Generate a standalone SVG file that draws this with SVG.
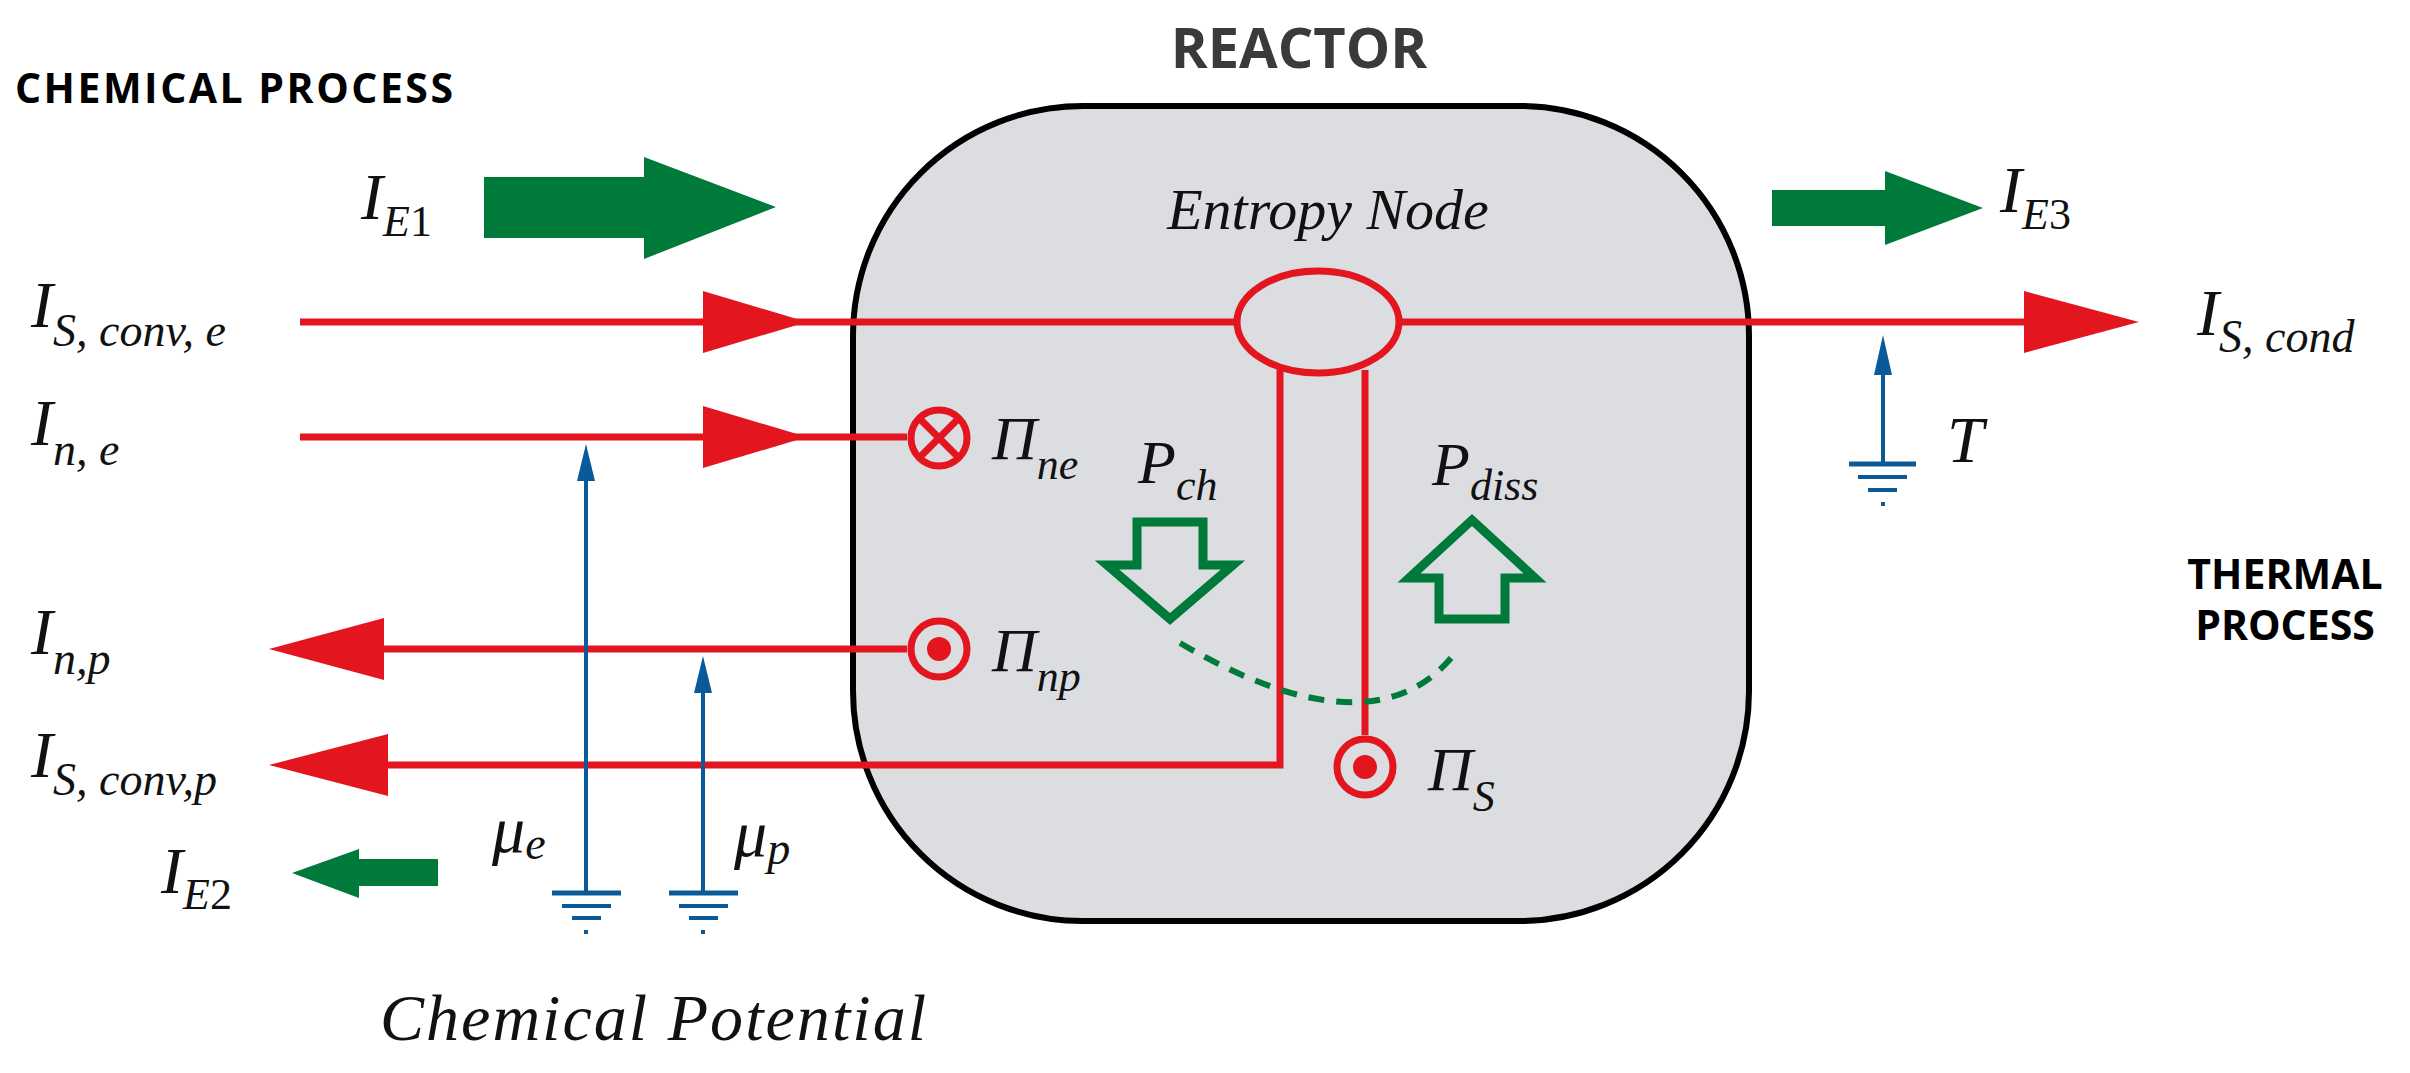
<svg xmlns="http://www.w3.org/2000/svg" width="2410" height="1073" viewBox="0 0 2410 1073">
<style>
.t{font-family:"Liberation Serif",serif;font-style:italic;fill:#111}
.b{font-family:"Open Sans","Liberation Sans",sans-serif;font-weight:bold}
.r{stroke:#e3151e;stroke-width:7;fill:none}
.bl{stroke:#0a5a9a;stroke-width:4;fill:none}
.rf{fill:#e3151e}
.g{fill:#007a3b}
</style>
<rect width="2410" height="1073" fill="#fff"/>
<g id="reactor">
<rect x="853" y="106" width="896" height="815" rx="230" ry="230" fill="#dcdde0" stroke="#000" stroke-width="6"/>
<text x="1299" y="68" class="b" font-size="56" fill="#3a3a3a" text-anchor="middle">REACTOR</text>
</g>
<text class="b" x="15" y="103" font-size="41" fill="#000" textLength="438">CHEMICAL PROCESS</text>
<text class="b" x="2285" y="589" font-size="41" fill="#000" text-anchor="middle">THERMAL</text>
<text class="b" x="2285" y="640" font-size="41" fill="#000" text-anchor="middle">PROCESS</text>
<g id="connectors">
<line x1="300" y1="322" x2="1237" y2="322" class="r"/>
<line x1="1399" y1="322" x2="2030" y2="322" class="r"/>
<polygon points="703,291 807,322 703,353" class="rf"/>
<polygon points="2024,291 2139,322 2024,353" class="rf"/>
<line x1="300" y1="437" x2="907" y2="437" class="r"/>
<polygon points="703,406 807,437 703,468" class="rf"/>
<line x1="380" y1="649" x2="907" y2="649" class="r"/>
<polygon points="269,649 384,618 384,680" class="rf"/>
<polyline points="380,765 1280,765 1280,370" class="r"/>
<polygon points="269,765 388,734 388,796" class="rf"/>
<line x1="1365" y1="370" x2="1365" y2="735" class="r"/>
<path d="M1180,643 Q1370,754 1452,657" stroke="#007a3b" stroke-width="6" fill="none" stroke-dasharray="16,12"/>
<line x1="586" y1="481" x2="586" y2="893" class="bl"/>
<polygon points="586,444 577,481 595,481" fill="#0a5a9a"/>
<line x1="703" y1="693" x2="703" y2="893" class="bl"/>
<polygon points="703,656 694,693 712,693" fill="#0a5a9a"/>
<line x1="1883" y1="375" x2="1883" y2="464" class="bl"/>
<polygon points="1883,335 1874,375 1892,375" fill="#0a5a9a"/>
</g>
<g id="grounds" stroke="#0a5a9a" stroke-width="4">
<line x1="552" y1="893" x2="621" y2="893" stroke-width="5"/><line x1="562" y1="906" x2="611" y2="906"/><line x1="572" y1="918" x2="601" y2="918"/><line x1="584" y1="932" x2="588" y2="932"/>
<line x1="669" y1="893" x2="738" y2="893" stroke-width="5"/><line x1="679" y1="906" x2="728" y2="906"/><line x1="689" y1="918" x2="718" y2="918"/><line x1="701" y1="932" x2="705" y2="932"/>
<line x1="1849" y1="464" x2="1916" y2="464" stroke-width="5"/><line x1="1858" y1="477" x2="1907" y2="477"/><line x1="1868" y1="490" x2="1897" y2="490"/><line x1="1881" y1="504" x2="1885" y2="504"/>
</g>
<g id="entropy-node">
<ellipse cx="1318" cy="322" rx="81" ry="51" class="r"/>
<text class="t" x="1328" y="229" font-size="58" text-anchor="middle">Entropy Node</text>
</g>
<g id="pi-ne">
<circle cx="939" cy="438" r="28" class="r"/>
<path d="M920,419 L958,457 M958,419 L920,457" class="r" stroke-width="6"/>
<text class="t" x="992" y="459" font-size="62">Π<tspan font-size="44" dy="20">ne</tspan></text>
</g>
<g id="pi-np">
<circle cx="939" cy="649" r="28" class="r"/>
<circle cx="939" cy="649" r="12" class="rf"/>
<text class="t" x="992" y="671" font-size="62">Π<tspan font-size="44" dy="20">np</tspan></text>
</g>
<g id="pi-s">
<circle cx="1365" cy="767" r="28" class="r"/>
<circle cx="1365" cy="767" r="12" class="rf"/>
<text class="t" x="1428" y="790" font-size="62">Π<tspan font-size="44" dy="21">S</tspan></text>
</g>
<g id="p-ch">
<polygon points="1137,522 1203,522 1203,565 1233,565 1170,619 1107,565 1137,565" fill="none" stroke="#007a3b" stroke-width="9"/>
<text class="t" x="1138" y="483" font-size="62">P<tspan font-size="44" dy="17">ch</tspan></text>
</g>
<g id="p-diss">
<polygon points="1439,619 1505,619 1505,578 1535,578 1472,520 1409,578 1439,578" fill="none" stroke="#007a3b" stroke-width="9"/>
<text class="t" x="1432" y="485" font-size="62">P<tspan font-size="44" dy="15">diss</tspan></text>
</g>
<g id="ie1">
<polygon points="484,177 644,177 644,157 776,207 644,259 644,238 484,238" class="g"/>
<text class="t" x="361" y="219" font-size="66">I<tspan font-size="44" dy="17">E</tspan><tspan font-style="normal" font-size="44">1</tspan></text>
</g>
<g id="ie2">
<polygon points="438,859 359,859 359,849 292,873 359,898 359,886 438,886" class="g"/>
<text class="t" x="161" y="893" font-size="66">I<tspan font-size="44" dy="16">E</tspan><tspan font-style="normal" font-size="44">2</tspan></text>
</g>
<g id="ie3">
<polygon points="1772,190 1885,190 1885,171 1983,208 1885,245 1885,226 1772,226" class="g"/>
<text class="t" x="2000" y="212" font-size="66">I<tspan font-size="44" dy="17">E</tspan><tspan font-style="normal" font-size="44">3</tspan></text>
</g>
<g id="labels">
<text class="t" x="31" y="327" font-size="66">I<tspan font-size="46" dy="19">S, conv, e</tspan></text>
<text class="t" x="31" y="445" font-size="66">I<tspan font-size="46" dy="20">n, e</tspan></text>
<text class="t" x="31" y="654" font-size="66">I<tspan font-size="46" dy="20">n,p</tspan></text>
<text class="t" x="31" y="777" font-size="66">I<tspan font-size="46" dy="18">S, conv,p</tspan></text>
<text class="t" x="2197" y="335" font-size="66">I<tspan font-size="46" dy="17">S, cond</tspan></text>
<text class="t" x="1947" y="462" font-size="66">T</text>
<text class="t" x="492" y="852" font-size="66">μ<tspan font-size="46" dy="7">e</tspan></text>
<text class="t" x="734" y="856" font-size="66">μ<tspan font-size="46" dy="8">p</tspan></text>
<text class="t" x="380" y="1040" font-size="66" textLength="546">Chemical Potential</text>
</g>
</svg>
